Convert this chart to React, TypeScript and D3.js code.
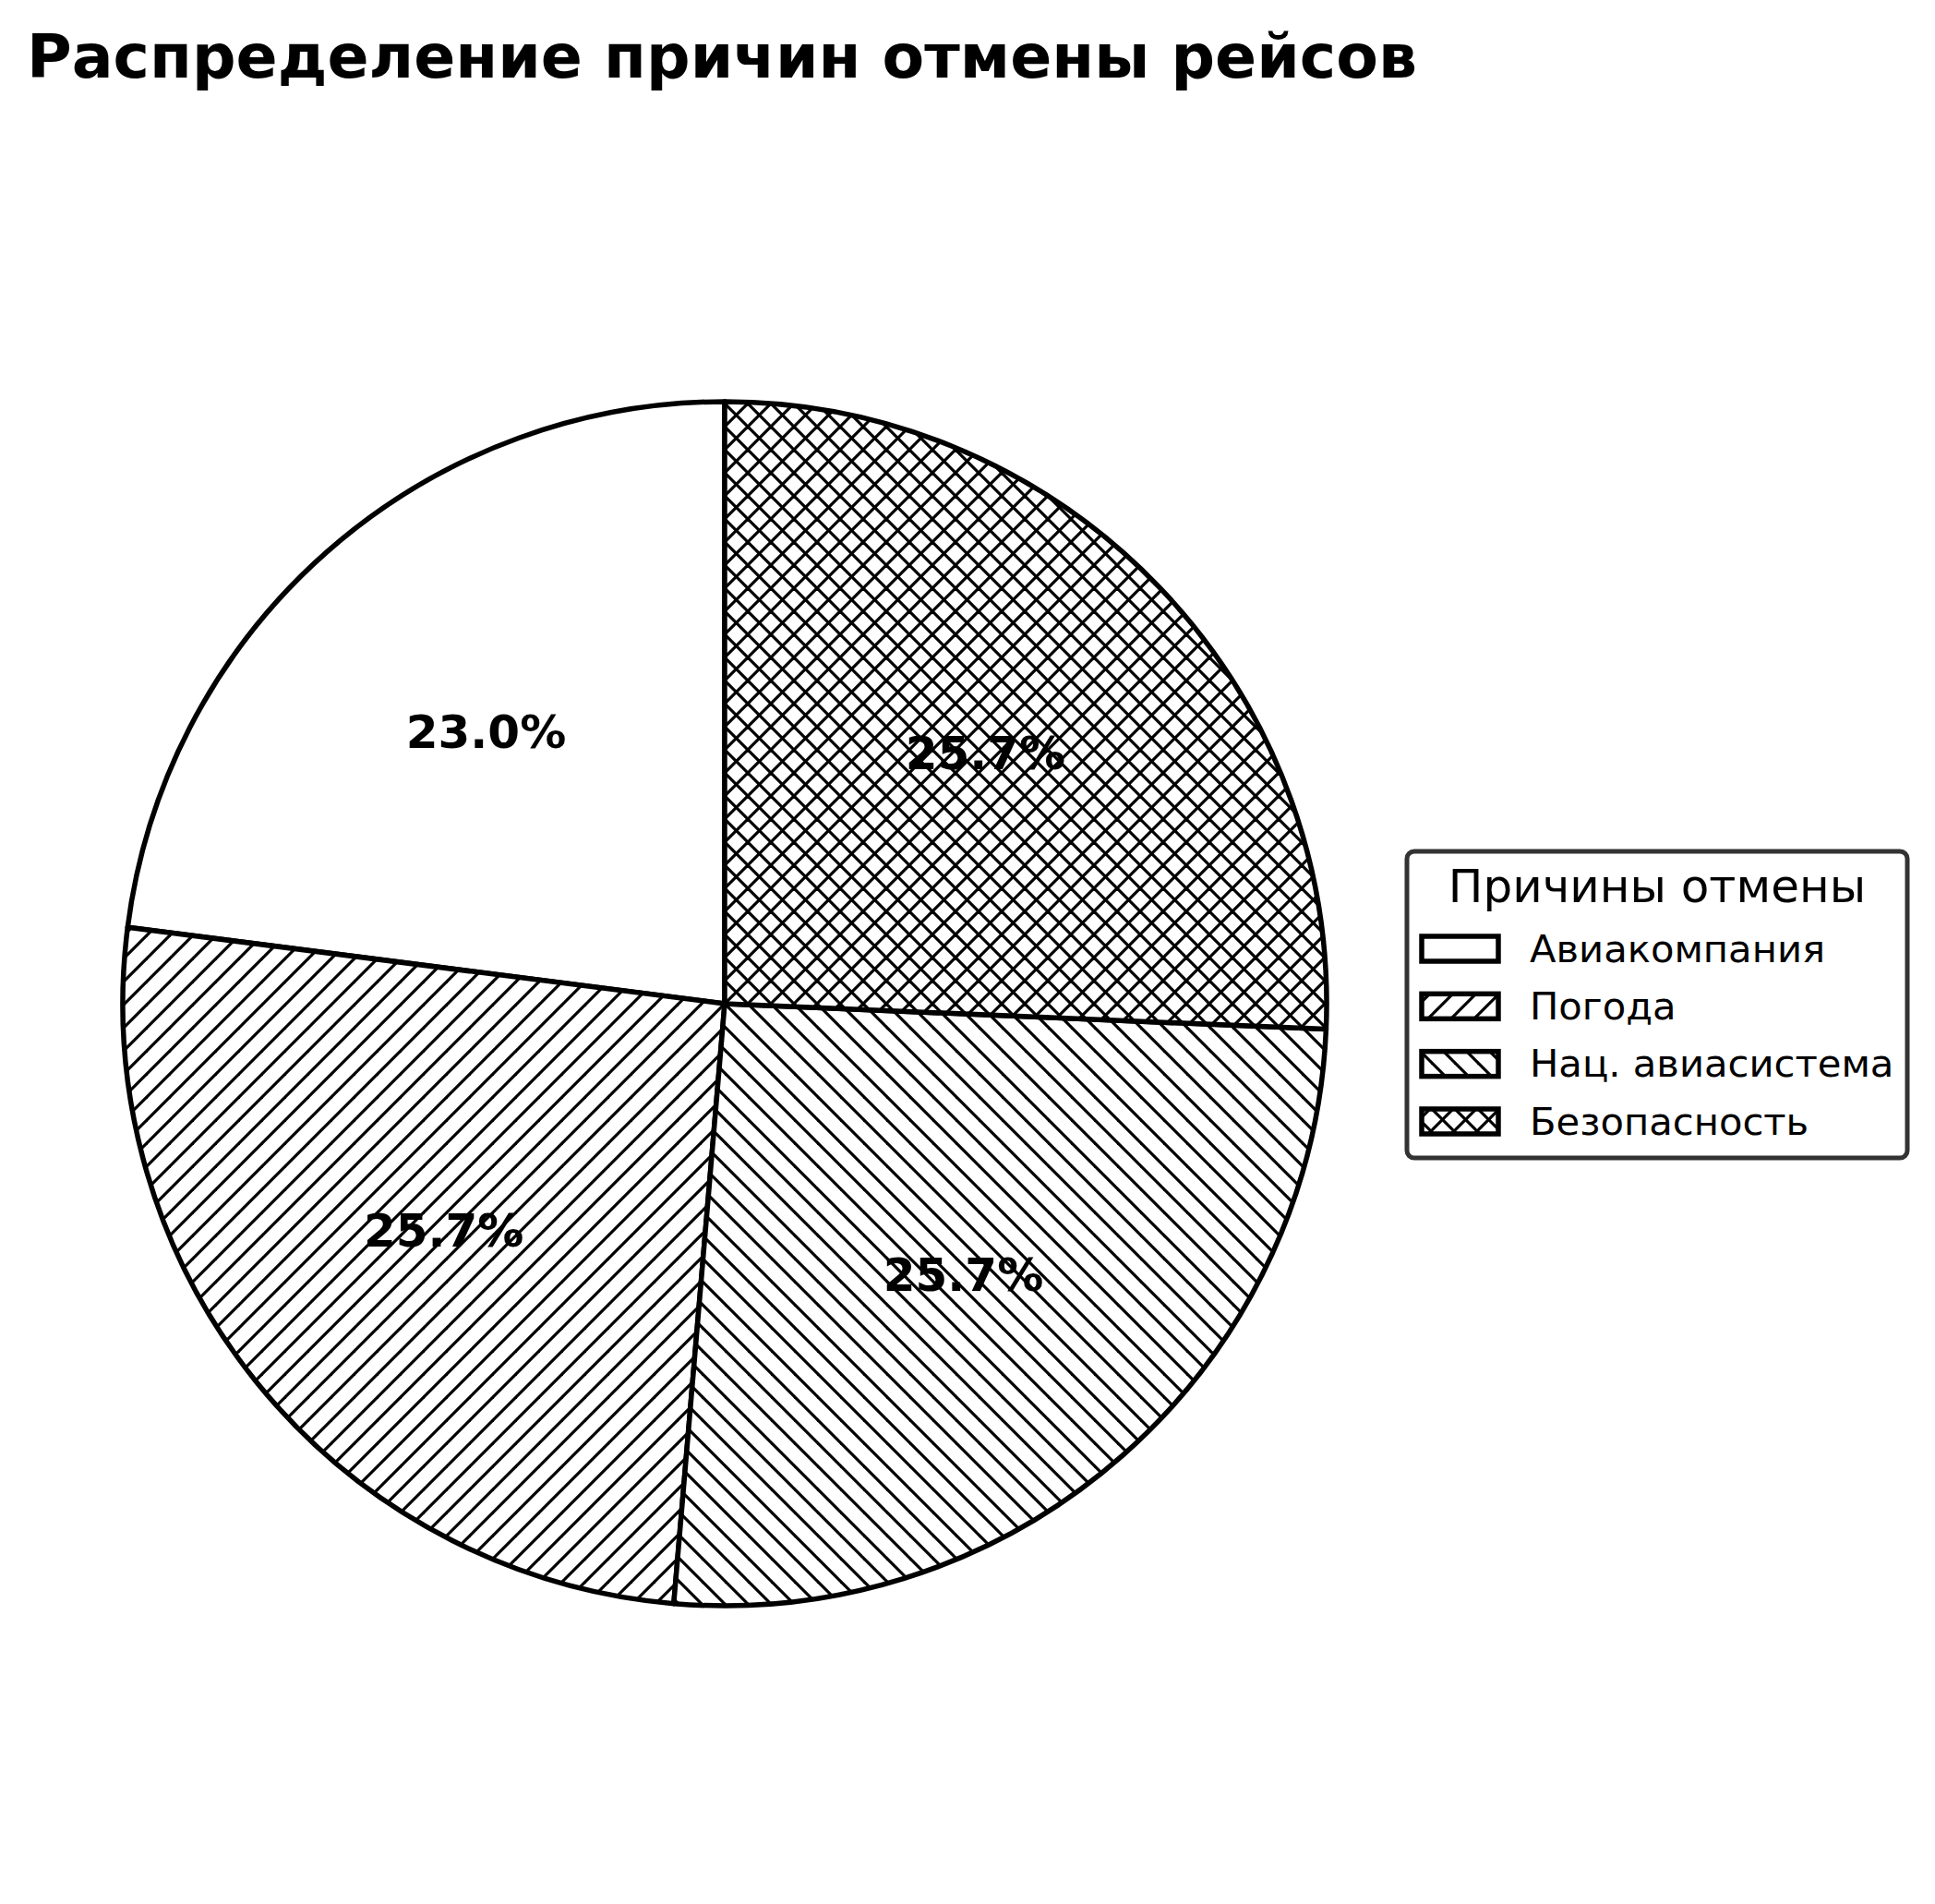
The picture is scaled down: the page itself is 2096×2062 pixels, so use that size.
import React from 'react';
import * as d3 from 'd3';

const categories = ['Авиакомпания', 'Погода', 'Нац. авиасистема', 'Безопасность'];
const shares = [23.0, 25.7, 25.7, 25.7];
const hatches = ['none', 'fwd', 'back', 'cross'];

const title = 'Распределение причин отмены рейсов';
const legendTitle = 'Причины отмены';

const W = 2096;
const H = 2062;
const cx = 785;
const cy = 1087;
const R = 652;
const HATCH = 25;

const patternLines: Record<string, string[]> = {
    fwd: [`M-2,${HATCH + 2}L${HATCH + 2},-2`, `M-2,2L2,-2`, `M${HATCH - 2},${HATCH + 2}L${HATCH + 2},${HATCH - 2}`],
    back: [`M-2,-2L${HATCH + 2},${HATCH + 2}`, `M${HATCH - 2},-2L${HATCH + 2},2`, `M-2,${HATCH - 2}L2,${HATCH + 2}`],
};
patternLines.cross = [...patternLines.fwd, ...patternLines.back];

const fillFor = (h: string) => (h === 'none' ? 'white' : `url(#hatch-${h})`);

const App = () => {
    const pie = d3.pie<number>()
        .sort(null)
        .startAngle(0)
        .endAngle(-2 * Math.PI);
    const arcs = pie(shares);
    const total = d3.sum(shares);

    const arc = d3.arc<d3.PieArcDatum<number>>().innerRadius(0).outerRadius(R);
    const labelArc = d3.arc<d3.PieArcDatum<number>>().innerRadius(R * 0.6).outerRadius(R * 0.6);

    // legend layout
    const lg = { x: 1524, y: 922, w: 542, h: 332 };
    const rowY = d3.scaleLinear().domain([0, 3]).range([1027, 1214]);

    return (
        <svg width={W} height={H} style={{ position: 'absolute', left: 0, top: 0, background: 'white' }}
            fontFamily="'DejaVu Sans', sans-serif">
            <defs>
                {Object.keys(patternLines).map(k => (
                    <pattern key={k} id={`hatch-${k}`} patternUnits="userSpaceOnUse" width={HATCH} height={HATCH}>
                        <rect width={HATCH} height={HATCH} fill="white" />
                        {patternLines[k].map((d, i) => (
                            <path key={i} d={d} stroke="black" strokeWidth={3.2} />
                        ))}
                    </pattern>
                ))}
            </defs>

            <rect width={W} height={H} fill="white" />

            <text x={29} y={84} fontSize={66.5} fontWeight="bold">{title}</text>

            <g transform={`translate(${cx},${cy})`}>
                {arcs.map((a, i) => (
                    <path key={i} d={arc(a) || ''} fill={fillFor(hatches[i])}
                        stroke="black" strokeWidth={5.5} strokeLinejoin="round" />
                ))}
                {arcs.map((a, i) => {
                    const [lx, ly] = labelArc.centroid(a);
                    return (
                        <text key={i} x={lx} y={ly} textAnchor="middle" dominantBaseline="central"
                            fontSize={50} fontWeight="bold">
                            {((shares[i] / total) * 100).toFixed(1)}%
                        </text>
                    );
                })}
            </g>

            <g>
                <rect x={lg.x} y={lg.y} width={lg.w} height={lg.h} rx={8} fill="white"
                    stroke="#333" strokeWidth={5} />
                <text x={lg.x + lg.w / 2} y={977} textAnchor="middle" fontSize={50}>{legendTitle}</text>
                {categories.map((c, i) => (
                    <g key={c}>
                        <rect x={1540} y={rowY(i) - 13} width={83} height={27}
                            fill={fillFor(hatches[i])} stroke="black" strokeWidth={5.5} />
                        <text x={1657} y={rowY(i)} dominantBaseline="central" fontSize={41.7}>{c}</text>
                    </g>
                ))}
            </g>
        </svg>
    );
};

export default App;
